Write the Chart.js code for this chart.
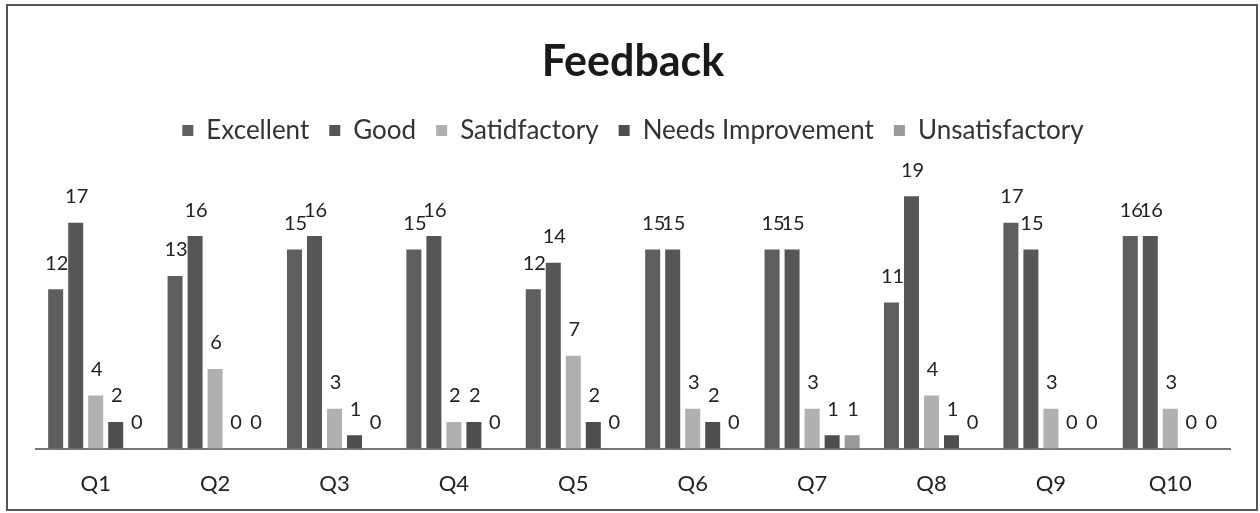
<!DOCTYPE html>
<html>
<head>
<meta charset="utf-8">
<script src="https://cdn.jsdelivr.net/npm/chart.js@4/dist/chart.umd.min.js"></script>
<style>
  html, body { margin: 0; padding: 0; background: #fff; }
  #wrap { width: 1260px; height: 513px; position: relative; }
</style>
</head>
<body>
<div id="wrap"><canvas id="c" width="1260" height="513"></canvas></div>
<script>
const categories = ['Q1','Q2','Q3','Q4','Q5','Q6','Q7','Q8','Q9','Q10'];
const excellent = [12, 13, 15, 15, 12, 15, 15, 11, 17, 16];
const good = [17, 16, 16, 16, 14, 15, 15, 19, 15, 16];
const satisfactory = [4, 6, 3, 2, 7, 3, 3, 4, 3, 3];
const needsImprovement = [2, 0, 1, 2, 2, 2, 1, 1, 0, 0];
const unsatisfactory = [0, 0, 0, 0, 0, 0, 1, 0, 0, 0];
const seriesNames = ['Excellent', 'Good', 'Satidfactory', 'Needs Improvement', 'Unsatisfactory'];
const yTicks = { min: 0, max: 20 };

const FONT = 'Lato, "Open Sans", sans-serif';

const labelPlugin = {
  id: 'valueLabels',
  beforeInit(chart) {
    const lg = chart.legend;
    if (lg) {
      const origFit = lg.fit;
      lg.fit = function () {
        origFit.call(this);
        this.height = 85.4;
      };
    }
  },
  afterDatasetsDraw(chart) {
    const ctx = chart.ctx;
    ctx.save();
    ctx.font = '20px ' + FONT;
    ctx.fillStyle = '#222';
    ctx.textAlign = 'center';
    ctx.textBaseline = 'bottom';
    chart.data.datasets.forEach((ds, i) => {
      const meta = chart.getDatasetMeta(i);
      meta.data.forEach((bar, j) => {
        ctx.fillText(String(ds.data[j]), bar.x + 1, bar.y - 16);
      });
    });
    ctx.restore();
  },
  afterDraw(chart) {
    const ctx = chart.ctx;
    ctx.save();
    ctx.strokeStyle = '#555';
    ctx.lineWidth = 2;
    ctx.strokeRect(7, 5, 1250, 505);
    ctx.restore();
  }
};

const colors = ['#5e5e5e', '#565656', '#b0b0b0', '#4e4e4e', '#9a9a9a'];
const seriesData = [excellent, good, satisfactory, needsImprovement, unsatisfactory];

new Chart(document.getElementById('c'), {
  type: 'bar',
  data: {
    labels: categories,
    datasets: seriesData.map((d, i) => ({
      label: seriesNames[i],
      data: d,
      backgroundColor: colors[i],
      borderWidth: 0,
      categoryPercentage: 0.838,
      barPercentage: 0.75
    }))
  },
  options: {
    responsive: false,
    animation: false,
    layout: { padding: { top: 8, left: 36, right: 30, bottom: -6 } },
    plugins: {
      title: {
        display: true,
        text: 'Feedback',
        color: '#1a1a1a',
        font: { family: FONT, size: 43, weight: 'bold' },
        padding: { top: 28, bottom: 10 }
      },
      legend: {
        display: true,
        position: 'top',
        labels: {
          color: '#333',
          font: { family: FONT, size: 26 },
          boxWidth: 11,
          boxHeight: 11,
          padding: 20
        }
      },
      tooltip: { enabled: false }
    },
    scales: {
      x: {
        grid: { display: false, drawTicks: false },
        border: { display: true, color: '#777', width: 2 },
        ticks: { color: '#222', font: { family: FONT, size: 22 }, padding: 22 }
      },
      y: {
        display: false,
        min: yTicks.min,
        max: yTicks.max
      }
    }
  },
  plugins: [labelPlugin]
});
</script>
</body>
</html>
